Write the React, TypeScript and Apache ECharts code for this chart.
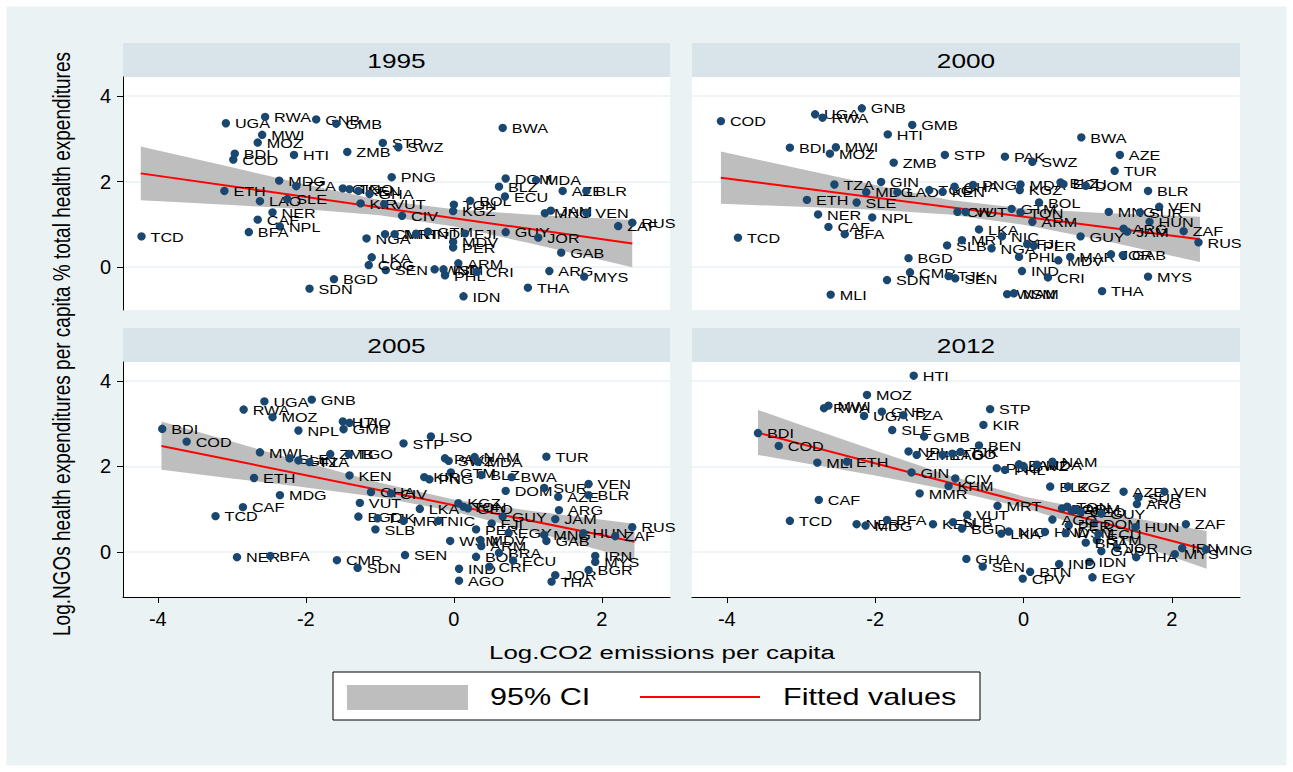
import React, { useEffect, useRef } from "react";
import * as echarts from "echarts";

const FONT = "'Liberation Sans', Arial, Helvetica, sans-serif";

const years = ["1995", "2000", "2005", "2012"];
const xTicks = [-4, -2, 0, 2];
const yTicks = [0, 2, 4];
const legendLabels = ["95% CI", "Fitted values"];
const xTitle = "Log.CO2 emissions per capita";
const yTitle = "Log.NGOs health expenditures per capita % total health expenditures";

// ---------- 1995 ----------
const codes1995 = ["TCD","UGA","RWA","GNB","GMB","MWI","MOZ","BDI","COD","HTI","ZMB","STP","SWZ","BWA","ETH","MDG","TZA","GIN","TGO","KEN","GHA","PNG","LAO","SLE","NER","CAF","NPL","BFA","KIR","VUT","CIV","TON","BOL","KGZ","DOM","MDA","BLZ","ECU","AZE","BLR","MNG","JAM","VEN","ZAF","RUS","GUY","JOR","GAB","ARG","MYS","THA","IDN","ARM","SEN","WSM","IND","PHL","CRI","LKA","COG","BGD","SDN","NGA","CMR","MRT","HND","GTM","FJI","MDV","PER"];
const co2_1995 = [-4.22,-3.08,-2.55,-1.86,-1.59,-2.59,-2.65,-2.96,-2.98,-2.16,-1.44,-0.96,-0.75,0.66,-3.10,-2.36,-2.13,-1.50,-1.41,-1.29,-1.14,-0.84,-2.62,-2.25,-2.45,-2.65,-2.35,-2.77,-1.26,-0.94,-0.70,0.00,0.22,-0.01,0.70,1.11,0.61,0.69,1.47,1.79,1.23,1.31,1.79,2.22,2.41,0.70,1.14,1.45,1.29,1.76,1.00,0.13,0.06,-0.92,-0.26,-0.14,-0.12,0.31,-1.11,-1.15,-1.62,-1.95,-1.18,-0.93,-0.80,-0.51,-0.35,0.15,-0.01,-0.01];
const ngo1995 = [0.72,3.36,3.51,3.45,3.35,3.09,2.91,2.65,2.51,2.62,2.69,2.90,2.80,3.25,1.78,2.02,1.89,1.84,1.82,1.78,1.71,2.10,1.54,1.59,1.28,1.11,0.95,0.82,1.49,1.47,1.20,1.46,1.55,1.31,2.07,2.03,1.88,1.65,1.78,1.78,1.26,1.32,1.27,0.96,1.04,0.82,0.69,0.34,-0.09,-0.22,-0.48,-0.68,0.09,-0.07,-0.05,-0.05,-0.19,-0.11,0.23,0.05,-0.28,-0.50,0.67,0.77,0.77,0.78,0.83,0.79,0.59,0.46];
const ciX1995 = [-4.23,-3,-2,-1,0,1,2.41];
const ciHi1995 = [2.82,2.33,1.93,1.57,1.35,1.23,1.10];
const ciLo1995 = [1.56,1.45,1.35,1.21,0.95,0.57,0.00];
const fitX1995 = [-4.23,2.41];
const fitY1995 = [2.19,0.55];

// ---------- 2000 ----------
const codes2000 = ["COD","UGA","RWA","GNB","GMB","HTI","BDI","MWI","MOZ","ZMB","STP","TZA","GIN","MDG","LAO","TGO","KEN","GHA","ETH","SLE","NER","NPL","CAF","BFA","TCD","BGD","CMR","SDN","MLI","SLB","MRT","LKA","NIC","NGA","CIV","VUT","GTM","TON","ARM","PNG","MDA","KGZ","BLZ","ECU","DOM","PAK","SWZ","BWA","AZE","TUR","BLR","BOL","VEN","MNG","SUR","HUN","ZAF","RUS","ARG","JAM","GUY","FJI","PER","PHL","MDV","MAR","JOR","GAB","IND","CRI","MYS","THA","WSM","NAM","TJK","SEN"];
const co2_2000 = [-4.08,-2.81,-2.71,-2.18,-1.50,-1.83,-3.15,-2.53,-2.61,-1.75,-1.06,-2.55,-1.92,-2.12,-1.70,-1.27,-1.09,-0.93,-2.92,-2.25,-2.77,-2.04,-2.63,-2.41,-3.85,-1.55,-1.53,-1.84,-2.60,-1.03,-0.83,-0.60,-0.29,-0.43,-0.89,-0.78,-0.16,-0.04,0.12,-0.68,-0.04,-0.05,0.50,0.54,0.84,-0.25,0.12,0.78,1.30,1.23,1.68,0.21,1.83,1.15,1.57,1.70,2.16,2.36,1.35,1.40,0.77,0.05,0.14,-0.06,0.47,0.63,1.18,1.34,-0.02,0.33,1.68,1.06,-0.22,-0.13,-1.01,-0.92];
const ngo2000 = [3.41,3.57,3.49,3.71,3.32,3.10,2.79,2.80,2.65,2.44,2.62,1.93,1.99,1.75,1.75,1.80,1.76,1.88,1.57,1.51,1.23,1.16,0.94,0.77,0.69,0.21,-0.12,-0.30,-0.64,0.51,0.63,0.88,0.72,0.44,1.29,1.29,1.36,1.28,1.06,1.92,1.93,1.80,1.98,1.94,1.90,2.58,2.46,3.03,2.62,2.25,1.78,1.51,1.41,1.29,1.28,1.06,0.84,0.58,0.90,0.83,0.72,0.54,0.50,0.24,0.16,0.24,0.30,0.28,-0.09,-0.24,-0.22,-0.56,-0.63,-0.61,-0.21,-0.26];
const ciX2000 = [-4.08,-3,-2,-1,0,1,2.38];
const ciHi2000 = [2.70,2.29,1.92,1.57,1.37,1.27,1.18];
const ciLo2000 = [1.48,1.41,1.34,1.23,0.99,0.65,0.12];
const fitX2000 = [-4.08,2.38];
const fitY2000 = [2.09,0.65];

// ---------- 2005 ----------
const codes2005 = ["BDI","COD","UGA","GNB","RWA","MOZ","NPL","HTI","LAO","GMB","MWI","SLE","GIN","TZA","ZMB","TGO","KEN","ETH","MDG","CAF","TCD","VUT","GHA","CIV","BGD","TJK","SLB","NER","BFA","CMR","SDN","LSO","STP","PAK","SWZ","NAM","MDA","TUR","GTM","BLZ","BWA","KIR","PNG","DOM","SUR","VEN","AZE","BLR","ARG","JAM","LKA","KGZ","TON","GEO","GUY","FJI","MRT","NIC","PER","EGY","MNG","HUN","GAB","ZAF","RUS","WSM","MDV","ARM","SEN","BOL","BRA","IND","CRI","ECU","AGO","JOR","THA","IRN","MYS","BGR"];
const co2_2005 = [-3.94,-3.61,-2.56,-1.92,-2.84,-2.45,-2.10,-1.50,-1.41,-1.49,-2.62,-2.22,-2.10,-1.95,-1.67,-1.42,-1.41,-2.70,-2.35,-2.85,-3.22,-1.27,-1.12,-0.85,-1.29,-1.03,-1.06,-2.93,-2.48,-1.58,-1.30,-0.31,-0.68,-0.12,-0.07,0.28,0.32,1.25,-0.04,0.37,0.78,-0.40,-0.33,0.70,1.22,1.82,1.41,1.82,1.42,1.37,-0.46,0.06,0.13,0.19,0.66,0.51,-0.68,-0.21,0.30,0.74,1.22,1.75,1.25,2.18,2.41,-0.05,0.36,0.37,-0.66,0.30,0.61,0.07,0.48,0.80,0.07,1.37,1.32,1.91,1.91,1.82];
const ngo2005 = [2.88,2.58,3.52,3.56,3.33,3.15,2.84,3.05,3.02,2.87,2.33,2.19,2.14,2.10,2.29,2.29,1.79,1.73,1.33,1.05,0.84,1.15,1.40,1.37,0.83,0.79,0.53,-0.12,-0.09,-0.19,-0.37,2.70,2.54,2.19,2.13,2.22,2.11,2.23,1.86,1.80,1.75,1.75,1.70,1.43,1.50,1.59,1.29,1.33,0.98,0.77,1.01,1.14,1.06,1.02,0.83,0.67,0.73,0.73,0.53,0.45,0.40,0.44,0.26,0.37,0.58,0.26,0.28,0.14,-0.07,-0.11,-0.02,-0.39,-0.34,-0.20,-0.67,-0.54,-0.69,-0.09,-0.23,-0.42];
const ciX2005 = [-3.95,-3,-2,-1,0,1,2.44];
const ciHi2005 = [3.05,2.58,2.09,1.62,1.23,0.97,0.66];
const ciLo2005 = [1.92,1.72,1.51,1.28,0.95,0.51,-0.18];
const fitX2005 = [-3.95,2.44];
const fitY2005 = [2.48,0.24];

// ---------- 2012 ----------
const codes2012 = ["HTI","MOZ","RWA","MWI","UGA","GNB","TZA","SLE","GMB","BDI","COD","MLI","ETH","NPL","ZMB","LAO","TGO","TJK","GIN","CIV","KHM","MMR","CAF","TCD","NER","MDG","BFA","KEN","SLB","BGD","VUT","GHA","STP","KIR","BEN","PNG","PHL","PAK","SWZ","MDA","NAM","BLZ","KGZ","AZE","VEN","SUR","ARG","MRT","BOL","TON","FJI","ARM","GEO","GUY","AGO","DOM","PER","HUN","ZAF","LKA","NIC","HND","WSM","ECU","GTM","BRA","JOR","GAB","THA","MYS","IRN","MNG","IDN","IND","BTN","CPV","EGY","SEN"];
const co2_2012 = [-1.48,-2.11,-2.69,-2.63,-2.15,-1.91,-1.62,-1.77,-1.34,-3.58,-3.30,-2.78,-2.38,-1.55,-1.44,-1.09,-0.96,-0.85,-1.51,-0.92,-1.01,-1.40,-2.76,-3.15,-2.25,-2.13,-1.84,-1.22,-0.95,-0.83,-0.76,-0.77,-0.45,-0.54,-0.60,-0.36,-0.25,-0.06,0.00,0.18,0.39,0.36,0.60,1.35,1.90,1.55,1.53,-0.35,0.52,0.59,0.65,0.70,0.77,1.05,0.39,0.95,0.61,1.51,2.19,-0.30,-0.20,0.29,0.57,1.01,0.99,0.84,1.26,1.05,1.52,2.04,2.14,2.46,0.89,0.48,0.09,-0.01,0.93,-0.55];
const ngo2012 = [4.12,3.67,3.36,3.42,3.18,3.28,3.20,2.85,2.70,2.78,2.48,2.09,2.11,2.35,2.27,2.27,2.30,2.34,1.86,1.72,1.54,1.37,1.22,0.73,0.65,0.62,0.75,0.65,0.70,0.55,0.87,-0.16,3.34,2.97,2.49,1.96,1.92,2.05,2.01,2.04,2.11,1.53,1.53,1.41,1.41,1.27,1.12,1.08,1.02,1.06,0.97,1.00,0.94,0.90,0.76,0.67,0.62,0.58,0.65,0.43,0.48,0.47,0.44,0.42,0.28,0.22,0.10,0.02,-0.12,-0.05,0.09,0.06,-0.23,-0.28,-0.46,-0.62,-0.59,-0.34];
const ciX2012 = [-3.58,-3,-2,-1,0,1,2.47];
const ciHi2012 = [3.32,2.97,2.37,1.79,1.30,0.95,0.49];
const ciLo2012 = [2.27,2.09,1.79,1.45,1.04,0.49,-0.39];
const fitX2012 = [-3.58,2.47];
const fitY2012 = [2.79,0.05];

const panels = [
  { codes: codes1995, xs: co2_1995, ys: ngo1995, ciX: ciX1995, ciHi: ciHi1995, ciLo: ciLo1995, fx: fitX1995, fy: fitY1995 },
  { codes: codes2000, xs: co2_2000, ys: ngo2000, ciX: ciX2000, ciHi: ciHi2000, ciLo: ciLo2000, fx: fitX2000, fy: fitY2000 },
  { codes: codes2005, xs: co2_2005, ys: ngo2005, ciX: ciX2005, ciHi: ciHi2005, ciLo: ciLo2005, fx: fitX2005, fy: fitY2005 },
  { codes: codes2012, xs: co2_2012, ys: ngo2012, ciX: ciX2012, ciHi: ciHi2012, ciLo: ciLo2012, fx: fitX2012, fy: fitY2012 },
];

const NAVY = "#1A476F";
const BAND = "#BEBEBE";
const RED = "#FF0000";
const BG = "#EAF2F3";
const HEAD = "#D8E4EA";

const gridBoxes = [
  { left: 123, top: 77, width: 547, height: 233 },
  { left: 692, top: 77, width: 548, height: 233 },
  { left: 123, top: 362, width: 547, height: 235 },
  { left: 692, top: 362, width: 548, height: 235 },
];

function buildOption(): any {
  const grid = gridBoxes.map((g) => ({ ...g, show: true, backgroundColor: "#FFFFFF", borderWidth: 0 }));
  const xAxis = gridBoxes.map((_, i) => {
    const bottom = i >= 2;
    return {
      type: "value", gridIndex: i, min: -4.47, max: 2.92, position: "bottom",
      axisLine: { show: bottom, onZero: false, lineStyle: { color: "#000", width: 1 } },
      axisTick: { show: bottom, length: 6, customValues: xTicks, lineStyle: { color: "#000", width: 1 } },
      axisLabel: { show: bottom, customValues: xTicks, margin: 12, fontSize: 20, color: "#000", fontFamily: FONT },
      splitLine: { show: false },
    };
  });
  const yAxis = gridBoxes.map((_, i) => {
    const left = i % 2 === 0;
    return {
      type: "value", gridIndex: i, min: i < 2 ? -1.0 : -1.05, max: 4.44, position: "left",
      axisLine: { show: left, onZero: false, lineStyle: { color: "#000", width: 1 } },
      axisTick: { show: left, length: 6, customValues: yTicks, lineStyle: { color: "#000", width: 1 } },
      axisLabel: { show: left, customValues: yTicks, margin: 12, fontSize: 20, color: "#000", fontFamily: FONT },
      splitLine: { show: true, lineStyle: { color: BG, width: 1.5 } },
    };
  });

  const series: any[] = [];
  panels.forEach((p, i) => {
    series.push({
      type: "custom", xAxisIndex: i, yAxisIndex: i, z: 2, silent: true,
      data: p.ciX.map((x, k) => [x, p.ciLo[k], p.ciHi[k]]),
      renderItem: (params: any, api: any) => {
        if (params.dataIndex !== 0) return null;
        const top = p.ciX.map((x, k) => api.coord([x, p.ciHi[k]]));
        const bot = p.ciX.map((x, k) => api.coord([x, p.ciLo[k]])).reverse();
        return { type: "polygon", shape: { points: top.concat(bot) }, style: { fill: BAND } };
      },
    });
    series.push({
      type: "line", xAxisIndex: i, yAxisIndex: i, z: 3, silent: true,
      symbol: "none", showSymbol: false,
      data: p.fx.map((x, k) => [x, p.fy[k]]),
      lineStyle: { color: RED, width: 2 },
    });
    series.push({
      type: "custom", xAxisIndex: i, yAxisIndex: i, z: 4, silent: true,
      data: p.xs.map((x, k) => [x, p.ys[k]]),
      renderItem: (params: any, api: any) => {
        const c = api.coord([api.value(0), api.value(1)]);
        return {
          type: "group",
          children: [
            { type: "circle", shape: { cx: c[0], cy: c[1], r: 4.2 }, style: { fill: NAVY } },
            {
              type: "text", x: c[0] + 9, y: c[1] + 1, scaleX: 1.35,
              style: { text: p.codes[params.dataIndex], fontSize: 12, fontFamily: FONT, fill: "#000", align: "left", verticalAlign: "middle" },
            },
          ],
        };
      },
    });
  });

  const graphic: any[] = [
    { type: "rect", silent: true, shape: { x: 0, y: 0, width: 1293, height: 772 }, style: { fill: "none", stroke: "#FFFFFF", lineWidth: 13 }, z: 100 },
  ];
  gridBoxes.forEach((g, i) => {
    const hy = g.top - 34;
    graphic.push({ type: "rect", silent: true, shape: { x: g.left, y: hy, width: g.width, height: 34 }, style: { fill: HEAD } });
    graphic.push({
      type: "text", silent: true, x: g.left + g.width / 2, y: hy + 17, scaleX: 1.25,
      style: { text: years[i], fontSize: 21, fontFamily: FONT, fill: "#000", align: "center", verticalAlign: "middle" },
    });
  });
  graphic.push({
    type: "text", silent: true, x: 662, y: 652, scaleX: 1.36,
    style: { text: xTitle, fontSize: 19, fontFamily: FONT, fill: "#000", align: "center", verticalAlign: "middle" },
  });
  graphic.push({
    type: "text", silent: true, x: 62, y: 344, rotation: Math.PI / 2, scaleY: 1.25,
    style: { text: yTitle, fontSize: 19, fontFamily: FONT, fill: "#000", align: "center", verticalAlign: "middle" },
  });
  // legend
  graphic.push({ type: "rect", silent: true, shape: { x: 333, y: 672, width: 647, height: 48 }, style: { fill: "#FFFFFF", stroke: "#000", lineWidth: 1 } });
  graphic.push({ type: "rect", silent: true, shape: { x: 347, y: 685, width: 121, height: 25 }, style: { fill: BAND } });
  graphic.push({
    type: "text", silent: true, x: 490, y: 697, scaleX: 1.33,
    style: { text: legendLabels[0], fontSize: 23, fontFamily: FONT, fill: "#000", align: "left", verticalAlign: "middle" },
  });
  graphic.push({ type: "line", silent: true, shape: { x1: 640, y1: 697, x2: 760, y2: 697 }, style: { stroke: RED, lineWidth: 2 } });
  graphic.push({
    type: "text", silent: true, x: 783, y: 697, scaleX: 1.33,
    style: { text: legendLabels[1], fontSize: 23, fontFamily: FONT, fill: "#000", align: "left", verticalAlign: "middle" },
  });

  return { animation: false, backgroundColor: BG, grid, xAxis, yAxis, series, graphic };
}

export default function App() {
  const ref = useRef<HTMLDivElement>(null);
  useEffect(() => {
    if (!ref.current) return;
    const chart = echarts.init(ref.current, undefined, { renderer: "svg" });
    chart.setOption(buildOption());
    return () => chart.dispose();
  }, []);
  return <div ref={ref} style={{ position: "fixed", left: 0, top: 0, width: 1293, height: 772 }} />;
}
